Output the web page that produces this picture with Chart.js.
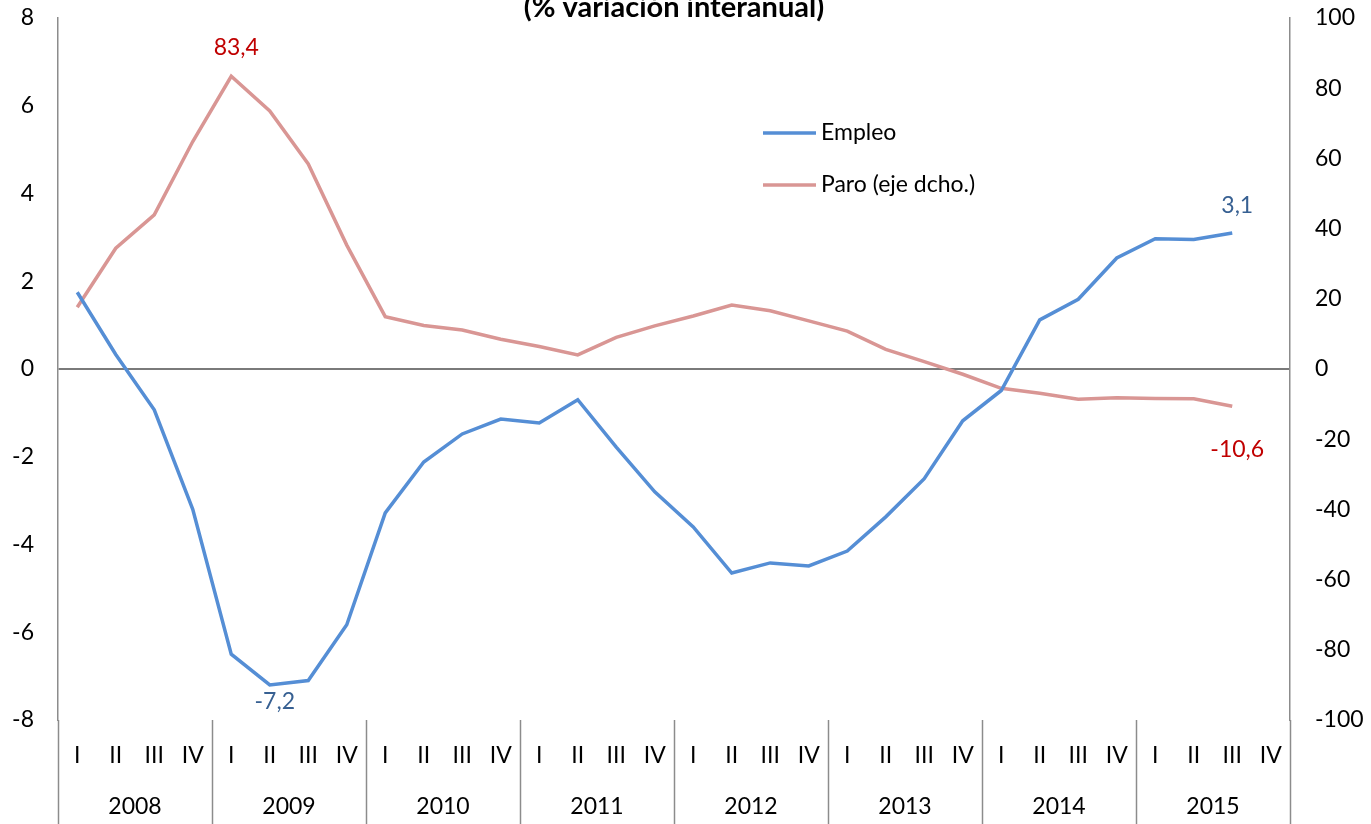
<!DOCTYPE html>
<html>
<head>
<meta charset="utf-8">
<script src="https://cdn.jsdelivr.net/npm/chart.js@4.4.1/dist/chart.umd.min.js"></script>
<style>
  html, body { margin: 0; padding: 0; background: #fff; overflow: hidden; }
  #wrap { position: relative; width: 1371px; height: 824px; }
</style>
</head>
<body>
<div id="wrap"><canvas id="grafico"></canvas></div>
<script>
// trimestres y años del eje horizontal
const trimestres = ['I', 'II', 'III', 'IV'];
const anios = ['2008', '2009', '2010', '2011', '2012', '2013', '2014', '2015'];

// empleo (% var. interanual, eje izquierdo), 2008 I - 2015 III
const empleo = [1.75, 0.33, -0.93, -3.2, -6.5, -7.2, -7.1, -5.83,
                -3.28, -2.12, -1.48, -1.14, -1.23, -0.7, -1.78, -2.8,
                -3.6, -4.65, -4.42, -4.49, -4.15, -3.37, -2.5, -1.18,
                -0.49, 1.12, 1.59, 2.53, 2.97, 2.95, 3.1];

// paro (% var. interanual, eje derecho)
const paro = [17.6, 34.4, 43.9, 64.8, 83.4, 73.5, 58.4, 35.3,
              14.9, 12.4, 11.1, 8.5, 6.4, 4.0, 9.0, 12.3,
              15.1, 18.2, 16.6, 13.7, 10.8, 5.6, 2.1, -1.5,
              -5.5, -6.9, -8.6, -8.2, -8.4, -8.5, -10.6];

const etiquetas = [];
anios.forEach(a => trimestres.forEach(t => etiquetas.push(t)));

const fuente = 'Lato, "Open Sans", sans-serif';
const gris = '#8c8c8c';

// etiquetas de valor sobre algunos puntos
const rotulos = [
    { serie: 1, idx: 4, texto: '83,4', color: '#c00000', dy: -29 },
    { serie: 0, idx: 5, texto: '-7,2', color: '#376092', dy: 17 },
    { serie: 0, idx: 30, texto: '3,1', color: '#376092', dy: -27 },
    { serie: 1, idx: 30, texto: '-10,6', color: '#c00000', dy: 43 }
];

const extras = {
    id: 'extras',
    afterDraw(chart) {
        const c = chart.ctx;
        const x = chart.scales.x;
        const area = chart.chartArea;
        c.save();

        // separadores de años bajo el eje
        c.strokeStyle = gris;
        c.lineWidth = 1.5;
        for (let k = 0; k <= anios.length; k++) {
            const px = Math.round(x.getPixelForValue(k * 4 - 0.5)) + 0.5;
            c.beginPath();
            c.moveTo(px, area.bottom);
            c.lineTo(px, chart.height);
            c.stroke();
        }

        // titulo (cortado arriba como en el original)
        c.fillStyle = '#000';
        c.font = 'bold 29px ' + fuente;
        c.textAlign = 'center';
        c.textBaseline = 'alphabetic';
        c.fillText('(% variación interanual)', (area.left + area.right) / 2, 17);

        // etiquetas de datos
        c.font = '23px ' + fuente;
        c.textBaseline = 'middle';
        rotulos.forEach(r => {
            const p = chart.getDatasetMeta(r.serie).data[r.idx];
            c.fillStyle = r.color;
            c.fillText(r.texto, p.x + 5, p.y + r.dy);
        });

        // leyenda
        c.textAlign = 'left';
        chart.data.datasets.forEach((ds, i) => {
            const ly = 133 + i * 52;
            c.strokeStyle = ds.borderColor;
            c.lineWidth = 3.5;
            c.beginPath();
            c.moveTo(763, ly);
            c.lineTo(816, ly);
            c.stroke();
            c.fillStyle = '#000';
            c.fillText(ds.label, 821, ly);
        });
        c.restore();
    }
};

// quita el margen que el eje vertical reserva para media etiqueta
function sinMargen(s, ancho) {
    s.width = ancho;
    s.paddingTop = 0;
    s.paddingBottom = 0;
}

new Chart(document.getElementById('grafico'), {
    type: 'line',
    data: {
        labels: etiquetas,
        datasets: [
            {
                label: 'Empleo',
                data: empleo,
                yAxisID: 'y',
                borderColor: '#558ed5',
                borderWidth: 3.5,
                pointRadius: 0,
                tension: 0
            },
            {
                label: 'Paro (eje dcho.)',
                data: paro,
                yAxisID: 'y2',
                borderColor: '#d99694',
                borderWidth: 3.5,
                pointRadius: 0,
                tension: 0
            }
        ]
    },
    options: {
        responsive: true,
        maintainAspectRatio: false,
        animation: false,
        layout: { padding: { top: 18, left: 0, right: 0, bottom: 0 } },
        plugins: {
            legend: { display: false },
            tooltip: { enabled: false }
        },
        scales: {
            x: {
                type: 'category',
                offset: true,
                weight: 0,
                grid: { display: false, drawTicks: false },
                border: { display: false },
                ticks: {
                    color: '#000',
                    font: { family: fuente, size: 23 },
                    padding: 22,
                    autoSkip: false,
                    maxRotation: 0
                },
                afterFit(s) { s.height = 60; s.paddingLeft = 0; s.paddingRight = 0; }
            },
            anios: {
                type: 'category',
                labels: anios,
                position: 'bottom',
                offset: true,
                weight: 1,
                grid: { display: false, drawTicks: false },
                border: { display: false },
                ticks: {
                    color: '#000',
                    font: { family: fuente, size: 23 },
                    padding: 13,
                    maxRotation: 0
                },
                afterFit(s) { s.height = 44; s.paddingLeft = 0; s.paddingRight = 0; }
            },
            y: {
                position: 'left',
                min: -8,
                max: 8,
                ticks: {
                    stepSize: 2,
                    color: '#000',
                    font: { family: fuente, size: 23 },
                    padding: 24
                },
                grid: {
                    drawTicks: false,
                    lineWidth: 2,
                    color: ctx => ctx.tick && ctx.tick.value === 0 ? '#7a7a7a' : 'rgba(0,0,0,0)'
                },
                border: { color: gris, width: 1.5 },
                afterFit(s) { sinMargen(s, 58); }
            },
            y2: {
                position: 'right',
                min: -100,
                max: 100,
                ticks: {
                    stepSize: 20,
                    color: '#000',
                    font: { family: fuente, size: 23 },
                    padding: 25
                },
                grid: { drawOnChartArea: false, drawTicks: false },
                border: { color: gris, width: 1.5 },
                afterFit(s) { sinMargen(s, 81); }
            }
        }
    },
    plugins: [extras]
});
</script>
</body>
</html>
